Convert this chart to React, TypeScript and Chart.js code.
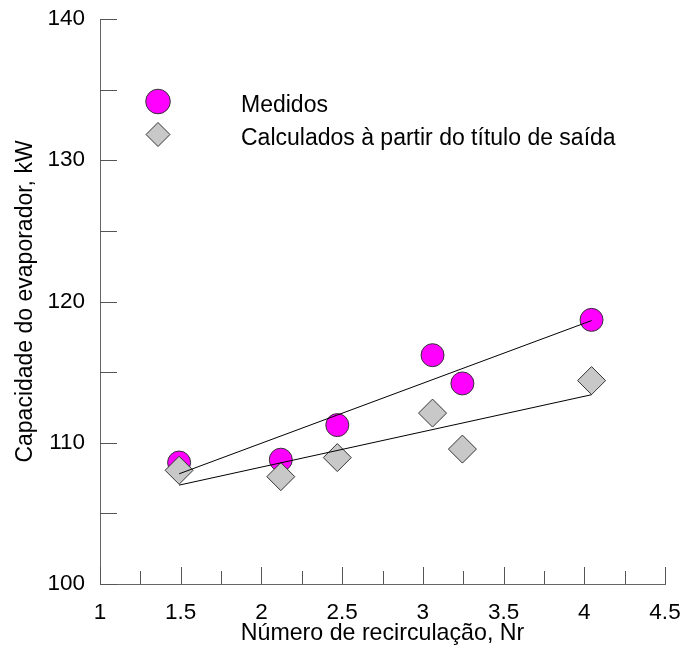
import React, { useEffect, useRef } from 'react';
import { Chart, registerables } from 'chart.js';
import { drawPoint } from 'chart.js/helpers';

Chart.register(...registerables);

// Número de recirculação (x) for each measurement
const nr = [1.49, 2.12, 2.47, 3.06, 3.245, 4.045];
// Capacidade do evaporador, kW
const medidos = [108.6, 108.8, 111.25, 116.2, 114.2, 118.7];
const calculados = [108.05, 107.6, 108.95, 112.1, 109.55, 114.4];
// Trend line end points
const fitX = [1.49, 4.045];
const fitMedidos = [107.8, 118.65];
const fitCalculados = [107.0, 113.4];

// Tick labels and tick marks
const xTickLabels = [1, 1.5, 2, 2.5, 3, 3.5, 4, 4.5];
const yTickLabels = [100, 110, 120, 130, 140];
const xTickMarks = [1, 1.25, 1.5, 1.75, 2, 2.25, 2.5, 2.75, 3, 3.25, 3.5, 3.75, 4, 4.25, 4.5];
const yTickMarks = [100, 105, 110, 115, 120, 125, 130, 135, 140];

const legendLabels = ['Medidos', 'Calculados à partir do título de saída'];

const FONT = "'Liberation Sans', Arial, sans-serif";
const MAGENTA = '#ff00ff';
const GRAY = '#c8c8c8';
const EDGE = '#333333';

const tickPlugin = {
  id: 'inwardTicks',
  afterDraw(chart: any) {
    const { ctx, chartArea, scales } = chart;
    const { left, bottom } = chartArea;
    ctx.save();
    ctx.strokeStyle = '#555555';
    ctx.lineWidth = 1;
    ctx.beginPath();
    for (const v of yTickMarks) {
      const py = Math.round(scales.y.getPixelForValue(v)) + 0.5;
      ctx.moveTo(left, py);
      ctx.lineTo(left + 17, py);
    }
    for (const v of xTickMarks) {
      const px = Math.round(scales.x.getPixelForValue(v)) + 0.5;
      const major = Math.abs(v * 2 - Math.round(v * 2)) < 1e-6;
      const len = major ? 17 : 13;
      ctx.moveTo(px, bottom);
      ctx.lineTo(px, bottom - len);
    }
    ctx.stroke();
    ctx.restore();
  },
};

const legendPlugin = {
  id: 'innerLegend',
  afterDraw(chart: any) {
    const { ctx } = chart;
    ctx.save();
    const items = [
      { style: 'circle', radius: 12.3, fill: MAGENTA, y: 101.5, baseline: 111.5 },
      { style: 'rectRot', radius: 12, fill: GRAY, y: 134.5, baseline: 145 },
    ];
    items.forEach((it, i) => {
      ctx.fillStyle = it.fill;
      ctx.strokeStyle = EDGE;
      ctx.lineWidth = 1;
      drawPoint(ctx, { pointStyle: it.style, radius: it.radius, rotation: 0, borderWidth: 1 } as any, 158, it.y);
      ctx.fillStyle = '#000000';
      ctx.font = `23px ${FONT}`;
      ctx.textAlign = 'left';
      ctx.textBaseline = 'alphabetic';
      ctx.fillText(legendLabels[i], 241, it.baseline);
    });
    ctx.restore();
  },
};

export default function App() {
  const ref = useRef<HTMLCanvasElement | null>(null);

  useEffect(() => {
    if (!ref.current) return;
    const chart = new Chart(ref.current, {
      type: 'scatter',
      data: {
        datasets: [
          {
            label: 'fit medidos',
            data: fitX.map((x, i) => ({ x, y: fitMedidos[i] })),
            showLine: true,
            borderColor: '#000000',
            borderWidth: 1,
            pointRadius: 0,
            order: 0,
          },
          {
            label: 'fit calculados',
            data: fitX.map((x, i) => ({ x, y: fitCalculados[i] })),
            showLine: true,
            borderColor: '#000000',
            borderWidth: 1,
            pointRadius: 0,
            order: 0,
          },
          {
            label: legendLabels[1],
            data: nr.map((x, i) => ({ x, y: calculados[i] })),
            pointStyle: 'rectRot',
            pointRadius: 14,
            backgroundColor: GRAY,
            borderColor: EDGE,
            borderWidth: 1,
            order: 1,
          },
          {
            label: legendLabels[0],
            data: nr.map((x, i) => ({ x, y: medidos[i] })),
            pointStyle: 'circle',
            pointRadius: 11.5,
            backgroundColor: MAGENTA,
            borderColor: EDGE,
            borderWidth: 1,
            order: 2,
          },
        ],
      },
      options: {
        responsive: false,
        animation: false,
        devicePixelRatio: 1,
        layout: { padding: { top: 19, right: 21, left: 0, bottom: 0 } },
        plugins: {
          legend: { display: false },
          tooltip: { enabled: false },
        },
        scales: {
          x: {
            type: 'linear',
            min: 1,
            max: 4.5,
            afterBuildTicks: (s: any) => {
              s.ticks = xTickLabels.map((v) => ({ value: v }));
            },
            afterFit: (s: any) => {
              s.height = 67;
              s.paddingLeft = 0;
              s.paddingRight = 0;
            },
            grid: { display: false, drawTicks: false },
            border: { display: true, color: '#666666', width: 1 },
            ticks: {
              padding: 15,
              color: '#000000',
              font: { family: FONT, size: 22.5 },
              maxRotation: 0,
              autoSkip: false,
              callback: (v: any) => String(v),
            },
            title: {
              display: true,
              text: 'Número de recirculação, Nr',
              color: '#000000',
              font: { family: FONT, size: 23.2 },
              padding: { top: 0, bottom: 3 },
            },
          },
          y: {
            type: 'linear',
            min: 100,
            max: 140,
            afterBuildTicks: (s: any) => {
              s.ticks = yTickLabels.map((v) => ({ value: v }));
            },
            afterFit: (s: any) => {
              s.width = 100;
              s.paddingTop = 0;
              s.paddingBottom = 0;
            },
            grid: { display: false, drawTicks: false },
            border: { display: true, color: '#666666', width: 1 },
            ticks: {
              padding: 15,
              color: '#000000',
              font: { family: FONT, size: 22.5 },
              autoSkip: false,
              callback: (v: any) => String(v),
            },
            title: {
              display: true,
              text: 'Capacidade do evaporador, kW',
              color: '#000000',
              font: { family: FONT, size: 23 },
              padding: { top: 12, bottom: 0 },
            },
          },
        },
      },
      plugins: [tickPlugin, legendPlugin],
    } as any);
    return () => chart.destroy();
  }, []);

  return (
    <div style={{ position: 'fixed', left: 0, top: 0, width: 686, height: 651, background: '#ffffff' }}>
      <canvas ref={ref} width={686} height={651} style={{ display: 'block' }} />
    </div>
  );
}
